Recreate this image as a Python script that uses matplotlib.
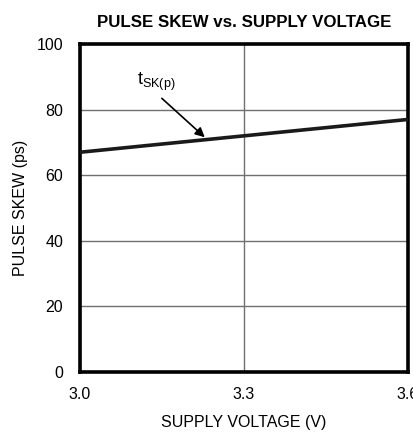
import matplotlib.pyplot as plt

plt.rcParams['font.family'] = ['Liberation Sans', 'DejaVu Sans']

# data
voltage = [3.0, 3.3, 3.6]
skew = [67, 72, 77]
xticks = [3.0, 3.3, 3.6]
xtick_labels = ['3.0', '3.3', '3.6']
yticks = [0, 20, 40, 60, 80, 100]

fig = plt.figure(figsize=(4.14, 4.34), dpi=100)
ax = fig.add_axes([80 / 414, 62 / 434, 328 / 414, 328 / 434])

ax.plot(voltage, skew, color='#1a1a1a', lw=2.6, solid_capstyle='butt', zorder=3)

ax.set_xlim(3.0, 3.6)
ax.set_ylim(0, 100)
ax.set_xticks(xticks)
ax.set_xticklabels(xtick_labels)
ax.set_yticks(yticks)
ax.tick_params(length=0, labelsize=11.5)
ax.tick_params(axis='x', pad=11)
ax.tick_params(axis='y', pad=12)
ax.grid(True, color='#707070', lw=1.0)
for s in ax.spines.values():
    s.set_linewidth(2.6)
    s.set_color('black')

ax.set_title('PULSE SKEW vs. SUPPLY VOLTAGE', fontsize=12.2, fontweight='bold', pad=12)
ax.set_xlabel('SUPPLY VOLTAGE (V)', fontsize=11.5, labelpad=9)
ax.set_ylabel('PULSE SKEW (ps)', fontsize=11.5, labelpad=6)

ax.annotate('', xy=(3.232, 71), xytext=(3.146, 84),
            arrowprops=dict(arrowstyle='-|>', color='black', lw=1.2, mutation_scale=14))
ax.text(3.104, 88.5, r't$_{\mathregular{SK(p)}}$', fontsize=13, va='center', ha='left')

fig.savefig('out.png', dpi=100)
